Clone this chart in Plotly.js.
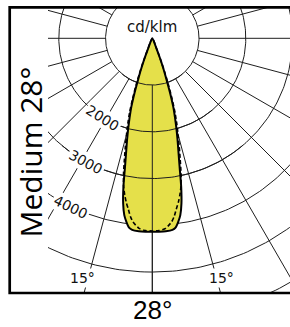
<!DOCTYPE html>
<html><head><meta charset="utf-8">
<script src="https://cdn.plot.ly/plotly-3.0.1.min.js"></script>
<style>html,body{margin:0;padding:0;background:#fff;overflow:hidden}</style>
</head><body><div id="chart" style="width:290px;height:327px"></div>
<script>
// ---- data (cd/klm vs angle from beam axis, symmetric) ----
const beamAngles = [0, 2, 4, 6, 7, 8, 9, 10, 11, 12, 13, 14, 15, 16, 17, 18, 19, 20, 21, 22, 23];
const solidCd    = [4140, 4140, 4138, 4120, 4080, 3970, 3830, 3590, 3240, 2810, 2485, 2230, 1990, 1760, 1535, 1240, 930, 700, 475, 240, 0];
const dashedCd   = [4122, 4115, 4075, 3950, 3840, 3690, 3555, 3400, 3220, 2960, 2650, 2380, 2130, 1900, 1660, 1380, 1090, 810, 560, 290, 0];
const ringValues = [1000, 2000, 3000, 4000, 5000, 6000, 7000];
const overRings  = [1000, 2000, 3000];
const spokeAngles = [0, 15, 30, 45, 60, 75, 90, 105, 120, 135, 150, 165, 180, 195, 210, 225, 240, 255, 270, 285, 300, 315, 330, 345];
const tickValues = [2000, 3000, 4000];
const tickLabels = ['2000', '3000', '4000'];
const angleTickLabels = ['15°', '15°'];
const unitLabel = 'cd/klm';
const sideTitle = 'Medium 28°';
const bottomTitle = '28°';

// ---- geometry / style ----
const PX = 0.04675;            // px per cd/klm
const CX = 152.3, CY = 38.3;   // pole position in px
const L = 48, R = 290, T = 8, B = 293;
const W = 290, H = 327;
const gridColor = '#1e1e1e';
const beamYellow = '#e5e04a';
const tickLabelAngles = [-32, -28.3, -25.9];
const angleTickPos = [{r: 5330, a: -16.2}, {r: 5330, a: 16.2}];

function pol(r, deg) { const a = deg * Math.PI / 180; return [r * Math.sin(a), -r * Math.cos(a)]; }

function ringsTrace(rings, a0, a1, width) {
  const x = [], y = [];
  rings.forEach(r => {
    for (let a = a0; a <= a1; a += 1) { const p = pol(r, a); x.push(p[0]); y.push(p[1]); }
    x.push(null); y.push(null);
  });
  return {x, y, mode: 'lines', line: {color: gridColor, width: width}, hoverinfo: 'skip', showlegend: false, type: 'scatter'};
}
function spokesTrace(angles, width) {
  const x = [], y = [];
  angles.forEach(a => {
    const p0 = pol(1000, a), p1 = pol(9000, a);
    x.push(p0[0], p1[0], null); y.push(p0[1], p1[1], null);
  });
  return {x, y, mode: 'lines', line: {color: gridColor, width: width}, hoverinfo: 'skip', showlegend: false, type: 'scatter'};
}
function beamXY(values) {
  const x = [], y = [];
  for (let i = beamAngles.length - 1; i >= 0; i--) { const p = pol(values[i], -beamAngles[i]); x.push(p[0]); y.push(p[1]); }
  for (let i = 1; i < beamAngles.length; i++) { const p = pol(values[i], beamAngles[i]); x.push(p[0]); y.push(p[1]); }
  return {x, y};
}

const solid = beamXY(solidCd);
const dashed = beamXY(dashedCd);

const traces = [
  ringsTrace(ringValues, 0, 360, 1),
  spokesTrace(spokeAngles, 1),
  {x: solid.x, y: solid.y, type: 'scatter', mode: 'lines', fill: 'toself', fillcolor: beamYellow,
   line: {width: 0, shape: 'spline', smoothing: 0.6}, hoverinfo: 'skip', showlegend: false},
  ringsTrace(overRings, -40, 40, 1),
  spokesTrace([0], 1),
  {x: dashed.x, y: dashed.y, type: 'scatter', mode: 'lines',
   line: {color: '#000', width: 1.6, dash: '4px,2.5px', shape: 'spline', smoothing: 0.6}, hoverinfo: 'skip', showlegend: false},
  {x: solid.x, y: solid.y, type: 'scatter', mode: 'lines',
   line: {color: '#000', width: 2, shape: 'spline', smoothing: 0.6}, hoverinfo: 'skip', showlegend: false}
];

const annotations = [];
tickValues.forEach((v, i) => {
  const p = pol(v, tickLabelAngles[i]);
  annotations.push({x: p[0], y: p[1], xref: 'x', yref: 'y', text: tickLabels[i], showarrow: false,
    textangle: -tickLabelAngles[i], bgcolor: '#fff', borderpad: 1,
    font: {family: 'DejaVu Sans', size: 14, color: '#111'}});
});
angleTickPos.forEach((q, i) => {
  const p = pol(q.r, q.a);
  annotations.push({x: p[0], y: p[1], xref: 'x', yref: 'y', text: angleTickLabels[i], showarrow: false,
    bgcolor: '#fff', borderpad: 1, font: {family: 'DejaVu Sans', size: 14, color: '#111'}});
});
annotations.push({x: 0, y: (CY - 26.5) / PX, xref: 'x', yref: 'y', text: unitLabel, showarrow: false,
  font: {family: 'DejaVu Sans', size: 15, color: '#111'}});
annotations.push({x: (30 - L) / (R - L), y: (B - 152.5) / (B - T), xref: 'paper', yref: 'paper', text: sideTitle,
  showarrow: false, textangle: -90, xanchor: 'center', yanchor: 'middle',
  font: {family: 'Open Sans', size: 30, color: '#000'}});
annotations.push({x: (152 - L) / (R - L), y: (B - 326) / (B - T), xref: 'paper', yref: 'paper', text: bottomTitle,
  showarrow: false, xanchor: 'center', yanchor: 'bottom', borderpad: 0,
  font: {family: 'Liberation Sans', size: 26, color: '#000'}});

const layout = {
  width: W, height: H,
  margin: {l: L, r: W - R, t: T, b: H - B, pad: 0},
  paper_bgcolor: '#fff', plot_bgcolor: '#fff',
  showlegend: false,
  xaxis: {range: [(L - CX) / PX, (R - CX) / PX], visible: false, fixedrange: true},
  yaxis: {range: [(CY - B) / PX, (CY - T) / PX], visible: false, fixedrange: true},
  shapes: [{type: 'rect', xref: 'paper', yref: 'paper',
    x0: (9.7 - L) / (R - L), x1: 1.05, y0: 0, y1: (B - 7.3) / (B - T),
    line: {color: '#000', width: 2.7}, fillcolor: 'rgba(0,0,0,0)', layer: 'above'}],
  annotations: annotations
};

Plotly.newPlot('chart', traces, layout, {staticPlot: true, displayModeBar: false});
</script></body></html>
